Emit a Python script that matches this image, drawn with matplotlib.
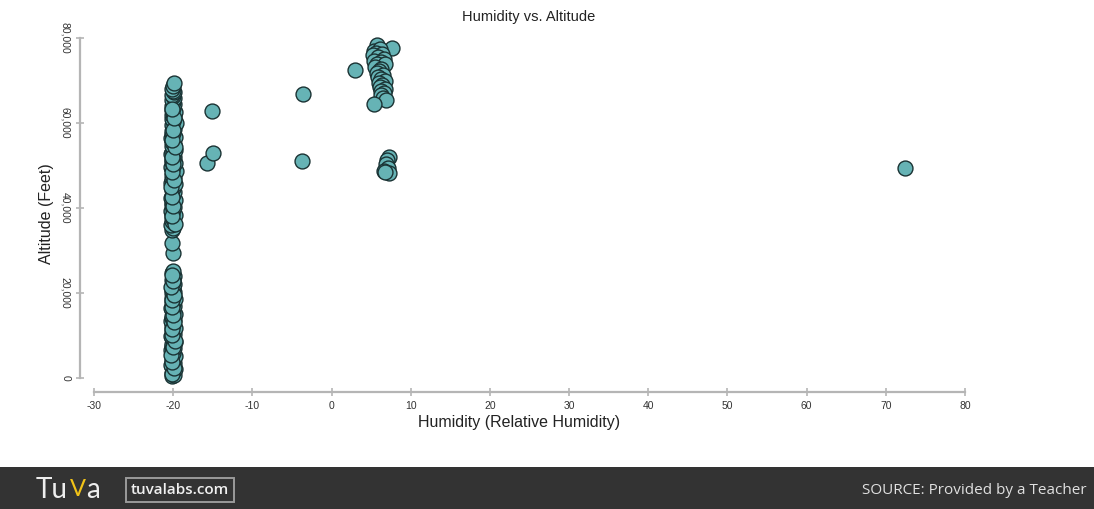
import matplotlib
matplotlib.use("Agg")
import matplotlib.pyplot as plt
from matplotlib.ticker import StrMethodFormatter
from matplotlib.patches import Rectangle

plt.rcParams["font.family"] = ["Liberation Sans", "DejaVu Sans"]
plt.rcParams["axes.unicode_minus"] = False

# dense column of readings near -20 % humidity
col_hum = [-20.1, -19.9, -20.2, -20.0, -19.8, -20.1, -20.3, -19.9, -20.0, -20.2,
           -19.8, -20.1, -20.0, -20.3, -19.9, -20.1, -20.2, -19.8, -20.0, -20.1,
           -20.3, -19.9, -20.0, -20.2, -19.8, -20.1, -20.0, -20.3, -19.9, -20.1,
           -20.2, -19.8, -20.0, -20.1, -20.3, -19.9, -20.0, -20.2, -19.8, -20.1,
           -20.0, -20.2, -19.9, -20.1, -20.0, -20.2, -19.9, -20.0, -20.1, -20.0,
           -19.9, -20.1, -20.0, -20.0, -20.1,
           -20.2, -20.0, -20.3, -19.9, -20.1, -20.0, -20.2, -19.8, -20.1, -20.3,
           -20.0, -19.9, -20.2, -20.1, -20.0, -19.8, -20.3, -20.1, -20.0, -19.9,
           -20.2, -20.0, -20.1, -19.8, -20.3, -20.0, -20.1, -19.9, -20.2, -20.0,
           -19.7, -20.1, -20.3, -20.0, -19.8, -20.2, -20.1, -19.9, -20.0, -20.3,
           -20.1, -19.8, -20.0, -20.2, -19.9, -20.1, -20.0, -20.3, -19.8, -20.1,
           -20.0, -20.2, -19.9, -20.0, -20.1, -19.7, -20.0, -20.2, -19.9, -20.1,
           -20.0, -19.8, -20.1, -20.0, -20.2, -19.9, -20.0, -20.1, -19.9, -20.0,
           -20.1, -19.9, -20.0, -20.1, -20.0, -19.9,
           -20.2, -19.9, -20.1, -20.3, -20.0, -19.8, -20.2, -20.1, -19.9, -20.0,
           -20.2, -20.1, -19.9, -20.3, -20.0, -20.1, -19.8, -20.2, -20.0, -20.1,
           -20.3, -19.9, -20.1, -20.0, -20.2, -19.8, -20.1, -20.0, -19.9, -20.2]
col_alt = [500, 800, 1200, 1700, 2100, 2600, 3000, 3600, 4100, 4500,
           5100, 5600, 6000, 6600, 7000, 7500, 8100, 8400, 9000, 9500,
           9900, 10400, 10900, 11300, 11800, 12200, 12800, 13300, 13700, 14200,
           14600, 15100, 15700, 16100, 16500, 17000, 17600, 18000, 18500, 18900,
           19400, 19900, 20300, 20800, 21200, 21700, 22100, 22600, 23000, 23600,
           24100, 24600, 25200, 29300, 31800,
           34900, 35400, 36000, 36500, 37000, 37400, 37900, 38400, 38800, 39300,
           39700, 40200, 40600, 41100, 41500, 42000, 42400, 42900, 43300, 43800,
           44200, 44700, 45100, 45600, 46000, 46500, 46900, 47400, 47800, 48300,
           48700, 49200, 49600, 50100, 50500, 51000, 51400, 51900, 52300, 52800,
           53200, 53700, 54100, 54600, 55000, 55500, 55900, 56400, 56800, 57300,
           57700, 58200, 58600, 59100, 59500, 60000, 60400, 60900, 61300, 61800,
           62200, 62700, 63100, 63600, 64000, 64500, 64900, 65400, 65800, 66300,
           66700, 67200, 67600, 68100, 68600, 69300,
           1000, 2400, 3800, 5400, 7300, 8800, 10100, 11600, 13100, 14900,
           16800, 18300, 19600, 21400, 22800, 24300, 36200, 38100, 40400, 42700,
           44900, 46700, 48500, 50300, 52100, 54300, 56100, 58400, 61100, 63300]

# scattered single readings
lone_hum = [-15.1, -15.7, -15.0, -3.6, -3.7, 3.0, 72.4]
lone_alt = [62800, 50700, 53000, 66800, 51000, 72500, 49300]

# cluster near 6 % at high altitude
high_hum = [5.7, 7.6, 5.3, 6.1, 5.6, 6.4, 5.2, 5.9, 6.6, 5.4,
            6.2, 5.8, 6.8, 5.5, 6.3, 6.0, 5.7, 6.5, 5.9, 6.2,
            6.7, 6.0, 6.4, 6.1, 6.8, 6.3, 6.6, 6.2, 6.5, 6.9, 5.3]
high_alt = [78300, 77600, 77000, 77300, 76500, 76200, 75900, 75500, 75000, 74600,
            74300, 73800, 74000, 73200, 72800, 72200, 71700, 71400, 70800, 70300,
            70000, 69500, 69000, 68400, 68000, 67500, 67000, 66500, 66000, 65300, 64400]

# small group near 7 % around 50,000 ft
mid_hum = [7.2, 7.0, 6.9, 7.1, 6.6, 7.2, 6.7]
mid_alt = [51900, 51200, 50300, 49500, 48700, 48200, 48500]

hum = col_hum + lone_hum + high_hum + mid_hum
alt = col_alt + lone_alt + high_alt + mid_alt

fig = plt.figure(figsize=(10.94, 5.09), dpi=100)
ax = fig.add_axes([94 / 1094, 131 / 509, 871 / 1094, 340 / 509])

ax.scatter(hum, alt, s=115, facecolor="#66b3b5", edgecolor="#1a3233",
           linewidth=1.0, zorder=3, clip_on=False)

ax.set_xlim(-30, 80)
ax.set_ylim(0, 80000)
ax.set_xticks(range(-30, 81, 10))
ax.set_yticks([0, 20000, 40000, 60000, 80000])
ax.yaxis.set_major_formatter(StrMethodFormatter("{x:,.0f}"))

for side in ["top", "right"]:
    ax.spines[side].set_visible(False)
for side in ["left", "bottom"]:
    ax.spines[side].set_position(("outward", 10))
    ax.spines[side].set_color("#b5b5b5")
    ax.spines[side].set_linewidth(1.6)
ax.tick_params(axis="both", direction="inout", length=6, width=1.2,
               color="#b5b5b5", labelsize=7.5, labelcolor="#333333")
ax.tick_params(axis="y", pad=4)
for lbl in ax.get_yticklabels():
    lbl.set_rotation(-90)
    lbl.set_va("center")

fig.text(529 / 1094, 1 - 17 / 509, "Humidity vs. Altitude", ha="center", va="center",
         fontsize=10.5, color="#222222")
fig.text(519 / 1094, 1 - 423 / 509, "Humidity (Relative Humidity)", ha="center",
         va="center", fontsize=11.5, color="#222222")
fig.text(47 / 1094, 1 - 214 / 509, "Altitude (Feet)", ha="center", va="center",
         rotation=90, fontsize=11.5, color="#222222")

# footer bar
fig.patches.append(Rectangle((0, 0), 1, 42 / 509, transform=fig.transFigure,
                             facecolor="#333333", edgecolor="none", zorder=0))
fig.text(36 / 1094, 1 - 490 / 509, "Tu", ha="left", va="center", fontsize=20,
         color="#eeeeee", family="Lato")
fig.text(70 / 1094, 1 - 490 / 509, "V", ha="left", va="center", fontsize=17,
         color="#f2c318", family="Lato")
fig.text(86 / 1094, 1 - 490 / 509, "a", ha="left", va="center", fontsize=20,
         color="#eeeeee", family="Lato")
fig.text(180 / 1094, 1 - 490 / 509, "tuvalabs.com", ha="center", va="center",
         fontsize=11, color="#f0f0f0", family="Open Sans", weight="semibold",
         bbox=dict(boxstyle="square,pad=0.35", facecolor="none",
                   edgecolor="#9a9a9a", linewidth=1.4))
fig.text(1087 / 1094, 1 - 490 / 509, "SOURCE: Provided by a Teacher", ha="right",
         va="center", fontsize=11, color="#e0e0e0", family="Open Sans")

fig.savefig("out.png", dpi=100)
